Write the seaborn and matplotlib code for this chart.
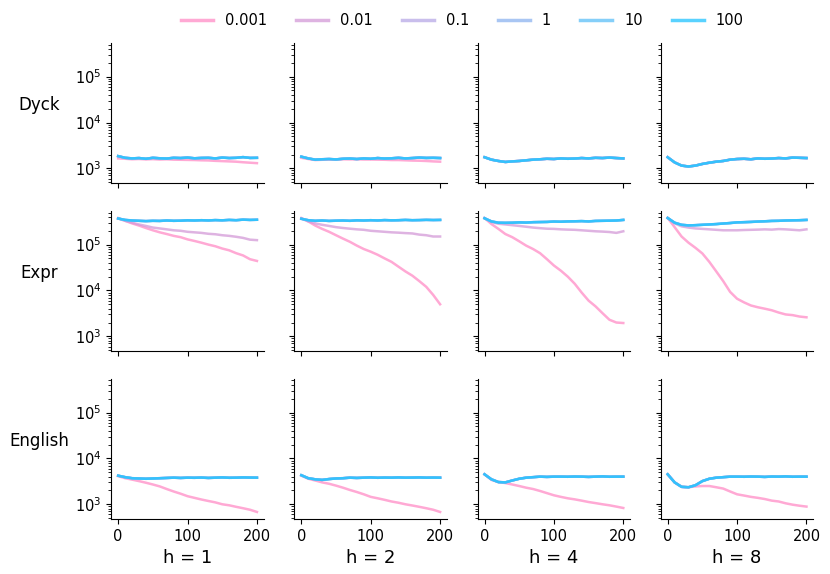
import matplotlib
matplotlib.use("Agg")
import matplotlib.pyplot as plt
import numpy as np
import pandas as pd
import seaborn as sns

steps = list(range(0, 201, 10))
lr_labels = ["0.001", "0.01", "0.1", "1", "10", "100"]
tasks = ["Dyck", "Expr", "English"]
heads = [1, 2, 4, 8]

# Dyck
dyck_h1_fast = [1850, 1700, 1650, 1680, 1620, 1700, 1660, 1640, 1700, 1680, 1720,
                1660, 1690, 1700, 1650, 1720, 1680, 1700, 1760, 1690, 1700]
dyck_h1_slow = [1650, 1620, 1580, 1600, 1570, 1590, 1560, 1580, 1550, 1540, 1530,
                1520, 1500, 1490, 1460, 1440, 1420, 1400, 1360, 1330, 1300]
dyck_h2_fast = [1800, 1650, 1550, 1580, 1600, 1570, 1620, 1640, 1600, 1650, 1620,
                1680, 1640, 1660, 1700, 1650, 1680, 1720, 1690, 1700, 1680]
dyck_h2_slow = [1700, 1600, 1520, 1540, 1560, 1560, 1580, 1570, 1580, 1560, 1560,
                1550, 1540, 1520, 1520, 1500, 1480, 1470, 1450, 1420, 1400]
dyck_h4_all = [1750, 1550, 1450, 1380, 1420, 1450, 1500, 1550, 1580, 1620, 1600,
               1650, 1620, 1640, 1680, 1650, 1700, 1680, 1720, 1680, 1650]
dyck_h8_all = [1750, 1350, 1150, 1100, 1150, 1250, 1330, 1400, 1450, 1550, 1600,
               1620, 1580, 1650, 1620, 1640, 1680, 1650, 1720, 1700, 1680]

# Expr
expr_h1_fast = [370000, 345000, 335000, 330000, 325000, 330000, 328000, 335000, 330000, 332000, 338000,
                335000, 340000, 336000, 342000, 338000, 345000, 340000, 350000, 345000, 348000]
expr_h1_mid = [370000, 330000, 300000, 275000, 255000, 235000, 225000, 215000, 205000, 200000, 190000,
               185000, 180000, 172000, 168000, 160000, 155000, 148000, 140000, 128000, 125000]
expr_h1_slow = [380000, 330000, 290000, 260000, 230000, 205000, 185000, 170000, 155000, 145000, 130000,
                120000, 110000, 100000, 92000, 82000, 75000, 65000, 58000, 48000, 44000]
expr_h2_fast = [365000, 340000, 330000, 335000, 328000, 332000, 335000, 330000, 338000, 335000, 340000,
                336000, 342000, 338000, 340000, 345000, 340000, 342000, 346000, 343000, 345000]
expr_h2_mid = [370000, 320000, 290000, 270000, 255000, 240000, 230000, 222000, 215000, 210000, 200000,
               195000, 190000, 185000, 182000, 178000, 175000, 165000, 160000, 150000, 150000]
expr_h2_slow = [380000, 320000, 260000, 220000, 190000, 160000, 135000, 115000, 95000, 80000, 70000,
                60000, 50000, 42000, 33000, 26000, 21000, 16000, 12000, 8000, 5000]
expr_h4_fast = [375000, 320000, 300000, 298000, 300000, 305000, 302000, 308000, 310000, 312000, 318000,
                315000, 320000, 322000, 325000, 320000, 328000, 330000, 332000, 335000, 345000]
expr_h4_mid = [375000, 310000, 285000, 275000, 265000, 255000, 245000, 235000, 228000, 222000, 220000,
               215000, 212000, 210000, 205000, 200000, 195000, 192000, 188000, 180000, 195000]
expr_h4_slow = [380000, 280000, 220000, 170000, 145000, 118000, 95000, 80000, 65000, 48000, 35000,
                27000, 20000, 14000, 9000, 6000, 4500, 3200, 2300, 2000, 1950]
expr_h8_fast = [380000, 300000, 270000, 262000, 265000, 270000, 275000, 280000, 288000, 295000, 305000,
                308000, 312000, 318000, 322000, 328000, 330000, 335000, 338000, 340000, 345000]
expr_h8_mid = [380000, 290000, 250000, 235000, 225000, 220000, 215000, 210000, 205000, 205000, 205000,
               208000, 210000, 212000, 215000, 212000, 218000, 215000, 210000, 205000, 215000]
expr_h8_slow = [380000, 240000, 150000, 110000, 85000, 64000, 42000, 26000, 16000, 9300, 6600,
                5500, 4700, 4300, 4000, 3700, 3300, 3000, 2900, 2700, 2600]

# English
english_h1_fast = [4200, 3900, 3700, 3650, 3600, 3650, 3700, 3750, 3800, 3750, 3800,
                   3780, 3820, 3750, 3800, 3850, 3780, 3800, 3850, 3820, 3800]
english_h1_slow = [4100, 3700, 3450, 3200, 2950, 2700, 2450, 2150, 1900, 1700, 1500,
                   1380, 1270, 1180, 1100, 1000, 950, 880, 820, 760, 680]
english_h2_fast = [4300, 3700, 3500, 3400, 3550, 3650, 3700, 3800, 3750, 3800, 3850,
                   3780, 3820, 3800, 3850, 3800, 3820, 3850, 3800, 3820, 3800]
english_h2_slow = [4200, 3600, 3300, 3000, 2800, 2550, 2300, 2050, 1850, 1650, 1450,
                   1350, 1250, 1150, 1080, 1000, 940, 880, 820, 760, 680]
english_h4_fast = [4500, 3500, 3050, 3000, 3300, 3600, 3800, 3900, 4000, 3950, 4000,
                   4000, 3980, 4020, 4000, 3950, 4000, 4050, 3980, 4000, 4000]
english_h4_slow = [4500, 3400, 3050, 2900, 2700, 2500, 2300, 2150, 1950, 1750, 1570,
                   1450, 1350, 1280, 1200, 1120, 1060, 1000, 950, 890, 830]
english_h8_fast = [4500, 3000, 2400, 2350, 2600, 3200, 3600, 3800, 3900, 4000, 4000,
                   3980, 4020, 4000, 3950, 4020, 4000, 4050, 3980, 4000, 4000]
english_h8_slow = [4500, 3000, 2400, 2350, 2450, 2500, 2500, 2350, 2200, 1900, 1650,
                   1550, 1450, 1380, 1300, 1200, 1150, 1050, 980, 930, 890]

# (lr 0.001, lr 0.01, lr >= 0.1) per panel
panels = {
    ("Dyck", 1): (dyck_h1_slow, dyck_h1_fast, dyck_h1_fast),
    ("Dyck", 2): (dyck_h2_slow, dyck_h2_fast, dyck_h2_fast),
    ("Dyck", 4): (dyck_h4_all, dyck_h4_all, dyck_h4_all),
    ("Dyck", 8): (dyck_h8_all, dyck_h8_all, dyck_h8_all),
    ("Expr", 1): (expr_h1_slow, expr_h1_mid, expr_h1_fast),
    ("Expr", 2): (expr_h2_slow, expr_h2_mid, expr_h2_fast),
    ("Expr", 4): (expr_h4_slow, expr_h4_mid, expr_h4_fast),
    ("Expr", 8): (expr_h8_slow, expr_h8_mid, expr_h8_fast),
    ("English", 1): (english_h1_slow, english_h1_fast, english_h1_fast),
    ("English", 2): (english_h2_slow, english_h2_fast, english_h2_fast),
    ("English", 4): (english_h4_slow, english_h4_fast, english_h4_fast),
    ("English", 8): (english_h8_slow, english_h8_fast, english_h8_fast),
}

rows = []
for (task, h), (slow, mid, fast) in panels.items():
    series = [slow, mid] + [fast] * 4
    for lr, vals in zip(lr_labels, series):
        for s, v in zip(steps, vals):
            rows.append((task, h, lr, s, v))
df = pd.DataFrame(rows, columns=["task", "h", "lr", "step", "value"])

palette = sns.blend_palette(["#ff8cc6", "#d49ad8", "#b8a8e6", "#8cb4f0", "#5cc0f8", "#22c4ff"], 6)

fig, axes = plt.subplots(3, 4, figsize=(8.3, 5.74), dpi=100, sharex=True, sharey=True)
fig.subplots_adjust(left=0.134, right=0.98, top=0.925, bottom=0.096, wspace=0.2, hspace=0.2)

for i, task in enumerate(tasks):
    for j, h in enumerate(heads):
        ax = axes[i, j]
        sub = df[(df["task"] == task) & (df["h"] == h)]
        sns.lineplot(data=sub, x="step", y="value", hue="lr", hue_order=lr_labels,
                     palette=palette, ax=ax, legend=(i == 0 and j == 0),
                     linewidth=1.8, alpha=0.75)
        ax.set_yscale("log")
        ax.set_ylabel("")
        ax.set_xlabel("")
        ax.tick_params(labelsize=10.5)
        if j == 0:
            ax.set_ylabel(task, rotation=0, fontsize=12, ha="center", va="center")
            ax.yaxis.set_label_coords(-0.47, 0.56)
        if i == 2:
            ax.set_xlabel(f"h = {h}", fontsize=13)
        sns.despine(ax=ax)

axes[0, 0].set_ylim(480, 5.4e5)
axes[0, 0].set_xlim(-10, 210)
axes[0, 0].set_xticks([0, 100, 200])

handles, labels = axes[0, 0].get_legend_handles_labels()
axes[0, 0].get_legend().remove()
for hnd in handles:
    hnd.set_linewidth(2.5)
fig.legend(handles, labels, loc="upper center", bbox_to_anchor=(0.557, 1.0), ncol=6,
           frameon=False, fontsize=10.5, handlelength=2.2, columnspacing=2.0)

fig.savefig("out.png", dpi=100)
